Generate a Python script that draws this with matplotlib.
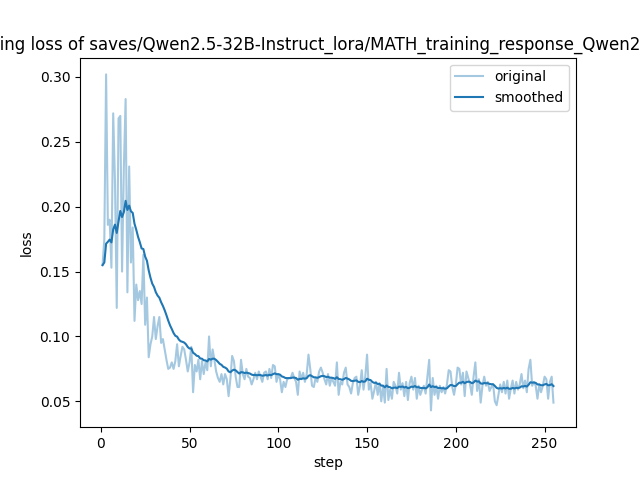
# training loss curve with EMA smoothing
import math
import numpy as np
import matplotlib
matplotlib.use("Agg")
import matplotlib.pyplot as plt

title = "training loss of saves/Qwen2.5-32B-Instruct_lora/MATH_training_response_Qwen2.5-32B"

# loss values, one per logging step
loss_warmup = [
    0.155, 0.175, 0.302, 0.186, 0.190, 0.153, 0.272, 0.220, 0.122, 0.268,
    0.270, 0.150, 0.230, 0.283, 0.134, 0.231, 0.157, 0.184, 0.112, 0.140,
    0.128, 0.135, 0.125, 0.163, 0.109, 0.130, 0.084, 0.094, 0.100, 0.115,
    0.098, 0.108, 0.115, 0.095, 0.098, 0.090, 0.082, 0.075, 0.076, 0.080,
    0.075, 0.081, 0.094, 0.077, 0.085, 0.092, 0.090, 0.082, 0.073, 0.080,
]
loss_mid = [
    0.092, 0.057, 0.078, 0.073, 0.082, 0.067, 0.081, 0.071, 0.080, 0.074,
    0.100, 0.077, 0.090, 0.082, 0.073, 0.068, 0.065, 0.071, 0.063, 0.071,
    0.067, 0.054, 0.067, 0.085, 0.081, 0.069, 0.061, 0.061, 0.082, 0.071,
    0.067, 0.075, 0.069, 0.068, 0.063, 0.067, 0.072, 0.067, 0.073, 0.069,
    0.065, 0.072, 0.073, 0.067, 0.075, 0.068, 0.078, 0.077, 0.065, 0.071,
    0.067, 0.057, 0.065, 0.061, 0.067, 0.068, 0.068, 0.072, 0.068, 0.065,
    0.055, 0.073, 0.067, 0.072, 0.065, 0.071, 0.086, 0.075, 0.062, 0.061,
    0.068, 0.065, 0.073, 0.076, 0.072, 0.067, 0.063, 0.071, 0.062, 0.068,
    0.065, 0.062, 0.080, 0.055, 0.065, 0.063, 0.072, 0.076, 0.063, 0.061,
    0.056, 0.064, 0.068, 0.069, 0.055, 0.062, 0.074, 0.059, 0.069, 0.086,
]
loss_late = [
    0.059, 0.064, 0.052, 0.058, 0.065, 0.055, 0.064, 0.050, 0.062, 0.049,
    0.075, 0.051, 0.059, 0.052, 0.065, 0.062, 0.056, 0.072, 0.059, 0.064,
    0.054, 0.065, 0.051, 0.064, 0.069, 0.059, 0.068, 0.052, 0.062, 0.055,
    0.059, 0.062, 0.056, 0.069, 0.082, 0.043, 0.068, 0.055, 0.062, 0.052,
    0.062, 0.057, 0.061, 0.056, 0.063, 0.074, 0.073, 0.061, 0.055, 0.063,
    0.076, 0.075, 0.063, 0.072, 0.054, 0.073, 0.068, 0.063, 0.055, 0.069,
    0.080, 0.058, 0.067, 0.049, 0.062, 0.069, 0.062, 0.065, 0.058, 0.061,
    0.063, 0.050, 0.047, 0.055, 0.063, 0.057, 0.065, 0.056, 0.066, 0.052,
    0.060, 0.066, 0.056, 0.065, 0.059, 0.063, 0.071, 0.060, 0.066, 0.057,
    0.075, 0.082, 0.062, 0.065, 0.062, 0.052, 0.063, 0.057, 0.062, 0.069,
    0.067, 0.052, 0.065, 0.069, 0.049,
]


def smooth(scalars):
    # exponential moving average, weight grows with the number of points
    last = scalars[0]
    smoothed = []
    weight = 1.8 * (1 / (1 + math.exp(-0.05 * len(scalars))) - 0.5)
    for next_val in scalars:
        smoothed_val = last * weight + (1 - weight) * next_val
        smoothed.append(smoothed_val)
        last = smoothed_val
    return smoothed


loss = loss_warmup + loss_mid + loss_late
steps = np.arange(1, len(loss) + 1)

plt.figure(figsize=(6.4, 4.8), dpi=100)
plt.plot(steps, loss, color="#1f77b4", alpha=0.4, label="original")
plt.plot(steps, smooth(loss), color="#1f77b4", label="smoothed")
plt.title(title)
plt.xlabel("step")
plt.ylabel("loss")
plt.legend()
plt.savefig("out.png", format="png", dpi=100)
